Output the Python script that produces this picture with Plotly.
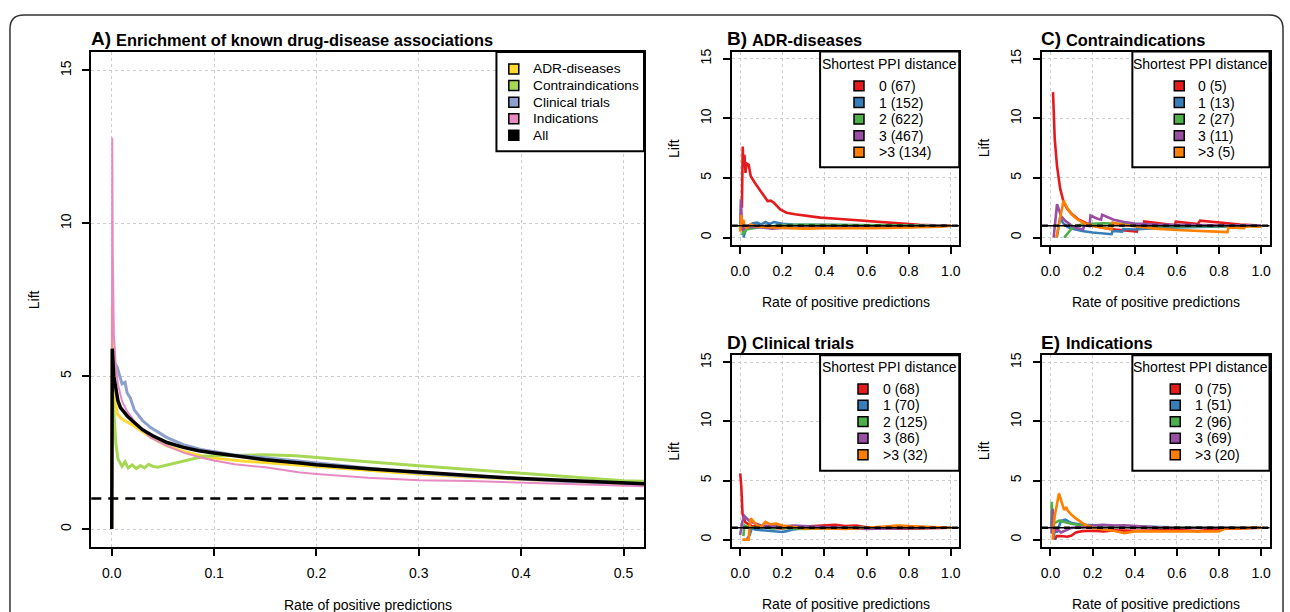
import plotly.graph_objects as go

W, H = 1290, 612
FONT = "Liberation Sans Narrow, Arial Narrow, Liberation Sans, sans-serif"

# ---------------- Panel A: enrichment of known drug-disease associations -------------
a_x_adr = [0, 0.0005, 0.002, 0.003, 0.0055, 0.01, 0.022, 0.038, 0.054, 0.07, 0.087, 0.1,
           0.13, 0.15, 0.184, 0.2, 0.25, 0.3, 0.35, 0.4, 0.45, 0.5, 0.52]
a_y_adr = [0, 7.3, 5.5, 4.41, 3.76, 3.6, 3.37, 3.0, 2.72, 2.54, 2.4, 2.32,
           2.22, 2.17, 2.07, 2.04, 1.92, 1.8, 1.7, 1.62, 1.54, 1.47, 1.45]

a_x_ci = [0.001, 0.002, 0.004, 0.006, 0.008, 0.01, 0.013, 0.016, 0.02, 0.024, 0.028, 0.032,
          0.036, 0.04, 0.045, 0.05, 0.055, 0.06, 0.065, 0.07, 0.075, 0.08, 0.09, 0.1, 0.12,
          0.15, 0.18, 0.2, 0.25, 0.3, 0.35, 0.4, 0.45, 0.5, 0.52]
a_y_ci = [4.4, 3.8, 2.8, 2.3, 2.15, 2.05, 2.2, 2.0, 2.1, 1.98, 2.08, 2.0,
          2.12, 2.05, 2.02, 2.06, 2.1, 2.13, 2.18, 2.2, 2.25, 2.3, 2.38, 2.4, 2.42,
          2.43, 2.4, 2.34, 2.2, 2.07, 1.95, 1.82, 1.7, 1.58, 1.56]

a_x_ct = [0.001, 0.002, 0.0055, 0.008, 0.01, 0.013, 0.015, 0.018, 0.022, 0.03, 0.038, 0.054,
          0.07, 0.087, 0.1, 0.12, 0.15, 0.2, 0.25, 0.3, 0.35, 0.4, 0.45, 0.5, 0.52]
a_y_ct = [5.0, 5.5, 5.27, 4.95, 4.75, 4.8, 4.45, 4.3, 3.9, 3.55, 3.32, 2.99,
          2.76, 2.6, 2.52, 2.42, 2.33, 2.16, 1.98, 1.83, 1.73, 1.63, 1.55, 1.5, 1.48]

a_x_ind = [0, 0.0005, 0.001, 0.002, 0.003, 0.004, 0.006, 0.01, 0.015, 0.022, 0.03, 0.038,
           0.054, 0.07, 0.087, 0.1, 0.12, 0.15, 0.184, 0.2, 0.25, 0.3, 0.35, 0.4, 0.45, 0.5, 0.52]
a_y_ind = [0, 12.8, 9.0, 6.4, 5.8, 5.3, 4.74, 4.19, 3.85, 3.54, 3.25, 2.99,
           2.72, 2.5, 2.34, 2.24, 2.12, 2.02, 1.85, 1.8, 1.68, 1.6, 1.57, 1.52, 1.47, 1.42, 1.4]

a_x_all = [0, 0.0005, 0.002, 0.004, 0.006, 0.0085, 0.012, 0.015, 0.02, 0.03, 0.04, 0.054,
           0.07, 0.085, 0.1, 0.12, 0.15, 0.184, 0.2, 0.25, 0.3, 0.35, 0.4, 0.45, 0.5, 0.52]
a_y_all = [0, 5.9, 5.0, 4.5, 4.2, 3.97, 3.8, 3.7, 3.54, 3.25, 3.05, 2.83,
           2.67, 2.56, 2.49, 2.4, 2.27, 2.16, 2.1, 1.97, 1.85, 1.75, 1.65, 1.57, 1.5, 1.48]

a_names = ["ADR-diseases", "Contraindications", "Clinical trials", "Indications", "All"]
a_colors = ["#FFD92F", "#A6D854", "#8DA0CB", "#E78AC3", "#000000"]

# ---------------- Panels B-E: by shortest PPI distance -------------------------------
ppi_labels = ["0", "1", "2", "3", ">3"]
ppi_colors = ["#E41A1C", "#377EB8", "#4DAF4A", "#984EA3", "#FF7F00"]

# B) ADR-diseases
b_counts = [67, 152, 622, 467, 134]
b_x_0 = [0.008, 0.012, 0.015, 0.02, 0.025, 0.03, 0.04, 0.05, 0.07, 0.085, 0.1, 0.115, 0.13,
         0.145, 0.16, 0.19, 0.22, 0.26, 0.3, 0.38, 0.46, 0.54, 0.62, 0.7, 0.78, 0.85, 0.92, 1.0]
b_y_0 = [2.5, 7.64, 5.97, 6.94, 5.42, 6.2, 6.11, 5.14, 4.58, 4.2, 3.89, 3.5, 3.06,
         3.1, 2.92, 2.36, 2.08, 1.95, 1.86, 1.67, 1.58, 1.47, 1.36, 1.22, 1.12, 1.06, 1.02, 1.0]
b_x_1 = [0.015, 0.02, 0.03, 0.04, 0.06, 0.08, 0.1, 0.12, 0.14, 0.16, 0.18, 0.2, 0.25, 0.3,
         0.4, 0.5, 0.6, 0.7, 0.8, 0.9, 1.0]
b_y_1 = [0.0, 0.3, 0.9, 1.0, 1.2, 1.25, 1.1, 1.3, 1.15, 1.3, 1.2, 1.15, 1.1, 1.08,
         1.05, 1.0, 1.02, 1.0, 0.98, 1.0, 1.0]
b_x_2 = [0.01, 0.015, 0.02, 0.03, 0.05, 0.08, 0.1, 0.15, 0.2, 0.3, 0.4, 0.5, 0.6, 0.7, 0.8, 0.9, 1.0]
b_y_2 = [0.2, 0.6, 0.4, 0.7, 0.75, 0.85, 0.9, 0.95, 1.05, 1.08, 1.07, 1.05, 1.04, 1.03, 1.02, 1.0, 1.0]
b_x_3 = [0.0, 0.003, 0.006, 0.01, 0.02, 0.05, 0.1, 0.15, 0.2, 0.3, 0.4, 0.5, 0.6, 0.7, 0.8, 0.9, 1.0]
b_y_3 = [1.0, 3.2, 2.0, 0.6, 0.8, 0.9, 0.85, 0.75, 0.8, 0.85, 0.85, 0.88, 0.9, 0.92, 0.95, 0.97, 1.0]
b_x_4 = [0.0, 0.005, 0.01, 0.015, 0.02, 0.03, 0.05, 0.07, 0.1, 0.15, 0.2, 0.3, 0.4, 0.5, 0.6,
         0.7, 0.8, 0.9, 0.95, 1.0]
b_y_4 = [0.5, 1.9, 1.2, 1.5, 1.0, 0.8, 1.1, 0.95, 0.9, 0.85, 0.8, 0.75, 0.78, 0.75, 0.78,
         0.8, 0.82, 0.85, 0.9, 1.0]

# C) Contraindications
c_counts = [5, 13, 27, 11, 5]
c_x_0 = [0.012, 0.02, 0.031, 0.046, 0.062, 0.08, 0.1, 0.13, 0.17, 0.22, 0.28, 0.34, 0.41, 0.415,
         0.44, 0.445, 0.52, 0.59, 0.595, 0.7, 0.71, 0.8, 0.9, 1.0]
c_y_0 = [12.2, 8.3, 6.0, 4.1, 3.0, 2.4, 2.0, 1.55, 1.2, 0.92, 0.72, 0.6, 0.5, 0.95,
         0.9, 1.35, 1.15, 1.02, 1.33, 1.14, 1.42, 1.25, 1.1, 1.0]
c_x_1 = [0.03, 0.046, 0.06, 0.08, 0.1, 0.15, 0.2, 0.25, 0.29, 0.295, 0.34, 0.345, 0.4, 0.45,
         0.5, 0.6, 0.7, 0.8, 0.9, 1.0]
c_y_1 = [0.0, 1.7, 1.2, 0.9, 0.75, 0.55, 0.42, 0.33, 0.28, 0.55, 0.5, 0.72, 0.68, 0.75,
         0.8, 0.85, 0.88, 0.92, 0.96, 1.0]
c_x_2 = [0.065, 0.08, 0.1, 0.12, 0.15, 0.2, 0.25, 0.3, 0.4, 0.5, 0.6, 0.7, 0.8, 0.9, 1.0]
c_y_2 = [0.0, 0.35, 0.75, 1.0, 1.1, 1.15, 1.2, 1.18, 1.05, 0.98, 0.95, 0.93, 0.95, 0.97, 1.0]
c_x_3 = [0.015, 0.031, 0.05, 0.07, 0.1, 0.13, 0.155, 0.16, 0.185, 0.19, 0.22, 0.24, 0.245, 0.28,
         0.3, 0.35, 0.4, 0.5, 0.6, 0.7, 0.8, 0.9, 1.0]
c_y_3 = [0.0, 2.8, 1.8, 1.4, 1.0, 0.78, 0.68, 1.05, 0.95, 1.85, 1.6, 1.5, 1.9, 1.65,
         1.5, 1.3, 1.18, 1.1, 1.05, 1.05, 1.03, 1.02, 1.0]
c_x_4 = [0.028, 0.062, 0.08, 0.1, 0.13, 0.16, 0.2, 0.25, 0.29, 0.295, 0.35, 0.4, 0.5, 0.6,
         0.7, 0.8, 0.84, 0.845, 0.92, 0.925, 1.0]
c_y_4 = [0.0, 3.1, 2.45, 1.95, 1.5, 1.2, 0.98, 0.8, 0.7, 1.25, 1.05, 0.95, 0.75, 0.63,
         0.55, 0.48, 0.46, 0.85, 0.78, 0.95, 0.92]

# D) Clinical trials
d_counts = [68, 70, 125, 86, 32]
d_x_0 = [0.0, 0.005, 0.011, 0.024, 0.04, 0.06, 0.08, 0.1, 0.15, 0.2, 0.25, 0.3, 0.35, 0.4,
         0.45, 0.5, 0.55, 0.6, 0.7, 0.8, 0.9, 1.0]
d_y_0 = [5.6, 4.5, 2.17, 1.47, 1.3, 1.1, 1.2, 1.05, 1.0, 0.95, 1.05, 1.1, 1.15, 1.2,
         1.25, 1.15, 1.2, 1.05, 0.95, 0.92, 0.97, 1.0]
d_x_1 = [0.03, 0.045, 0.055, 0.07, 0.1, 0.13, 0.16, 0.2, 0.22, 0.25, 0.3, 0.35, 0.4, 0.5,
         0.6, 0.7, 0.8, 0.9, 1.0]
d_y_1 = [0.0, 0.4, 1.0, 0.85, 0.8, 0.75, 0.7, 0.65, 0.72, 0.85, 0.95, 0.92, 1.0, 0.98,
         1.0, 1.0, 1.0, 1.0, 1.0]
d_x_2 = [0.015, 0.02, 0.03, 0.05, 0.1, 0.15, 0.2, 0.3, 0.4, 0.5, 0.6, 0.7, 0.8, 0.9, 1.0]
d_y_2 = [0.3, 1.2, 1.1, 1.0, 1.05, 0.95, 1.0, 0.9, 0.95, 0.98, 1.0, 1.0, 0.98, 1.0, 1.0]
d_x_3 = [0.0, 0.01, 0.02, 0.03, 0.05, 0.08, 0.1, 0.15, 0.2, 0.25, 0.3, 0.4, 0.5, 0.6, 0.7,
         0.8, 0.9, 1.0]
d_y_3 = [0.4, 1.5, 2.0, 1.8, 1.5, 1.3, 1.2, 1.15, 1.1, 1.2, 1.15, 1.1, 0.95, 0.9, 0.95,
         1.0, 1.0, 1.0]
d_x_4 = [0.01, 0.04, 0.045, 0.05, 0.065, 0.08, 0.1, 0.12, 0.14, 0.17, 0.2, 0.25, 0.3, 0.4,
         0.5, 0.6, 0.7, 0.75, 0.8, 0.9, 1.0]
d_y_4 = [0.0, 0.0, 1.2, 1.8, 1.5, 1.2, 1.1, 1.5, 1.3, 1.35, 1.2, 1.05, 0.95, 0.95,
         0.9, 1.0, 1.1, 1.2, 1.15, 1.05, 1.0]

# E) Indications
e_counts = [75, 51, 96, 69, 20]
e_x_0 = [0.02, 0.03, 0.05, 0.08, 0.1, 0.12, 0.15, 0.2, 0.25, 0.3, 0.4, 0.5, 0.6, 0.7, 0.75,
         0.8, 0.9, 1.0]
e_y_0 = [0.0, 0.3, 0.3, 0.25, 0.35, 0.6, 0.72, 0.75, 0.7, 0.78, 0.75, 0.78, 0.8, 0.72, 0.8,
         0.9, 0.95, 1.0]
e_x_1 = [0.015, 0.02, 0.03, 0.05, 0.07, 0.1, 0.15, 0.2, 0.3, 0.4, 0.5, 0.6, 0.7, 0.8, 0.9, 1.0]
e_y_1 = [0.0, 1.0, 0.6, 1.6, 1.7, 1.4, 1.25, 1.2, 1.15, 1.1, 1.05, 1.0, 1.0, 1.0, 1.0, 1.0]
e_x_2 = [0.003, 0.006, 0.01, 0.02, 0.04, 0.06, 0.08, 0.1, 0.15, 0.2, 0.3, 0.4, 0.5, 0.6, 0.7,
         0.8, 0.9, 1.0]
e_y_2 = [1.0, 3.2, 1.5, 1.4, 1.6, 1.5, 1.45, 1.35, 1.2, 1.1, 1.1, 1.05, 1.05, 1.05, 1.02,
         1.0, 1.0, 1.0]
e_x_3 = [0.005, 0.01, 0.015, 0.03, 0.05, 0.07, 0.1, 0.15, 0.2, 0.25, 0.3, 0.35, 0.4, 0.5,
         0.6, 0.7, 0.8, 0.9, 1.0]
e_y_3 = [0.5, 2.6, 0.6, 0.9, 0.6, 0.75, 1.0, 1.05, 1.2, 1.25, 1.2, 1.22, 1.15, 1.05,
         1.0, 1.0, 1.0, 1.02, 1.0]
e_x_4 = [0.01, 0.02, 0.04, 0.05, 0.065, 0.075, 0.08, 0.1, 0.12, 0.16, 0.2, 0.25, 0.3, 0.35,
         0.4, 0.5, 0.6, 0.7, 0.8, 0.83, 0.9, 1.0]
e_y_4 = [0.0, 2.0, 3.9, 3.3, 2.5, 2.75, 2.5, 2.1, 1.8, 1.3, 1.0, 0.85, 0.75, 0.55,
         0.7, 0.7, 0.72, 0.7, 0.7, 0.95, 0.95, 1.0]

a_xticks = [0, 0.1, 0.2, 0.3, 0.4, 0.5]
small_xticks = [0, 0.2, 0.4, 0.6, 0.8, 1.0]
yticks = [0, 5, 10, 15]

# ---------------- helpers -------------------------------------------------------------
def px(x):
    return x / W


def py(y):
    return 1 - y / H


fig = go.Figure()

# panel geometry in pixels: (left, right, top, bottom)
geo = {
    "A": (90.5, 644.5, 49.3, 547.1),
    "B": (732.5, 960.5, 48.8, 242.9),
    "C": (1043.5, 1271.5, 48.8, 242.9),
    "D": (732.5, 960.5, 353.9, 546.4),
    "E": (1043.5, 1271.5, 353.9, 546.4),
}
axis_ids = {"A": "", "B": "2", "C": "3", "D": "4", "E": "5"}

# Panel A traces
a_series = [(a_x_adr, a_y_adr), (a_x_ci, a_y_ci), (a_x_ct, a_y_ct), (a_x_ind, a_y_ind), (a_x_all, a_y_all)]
a_widths = [3, 3, 3, 2, 3.5]
for (xs, ys), name, col, w in zip(a_series, a_names, a_colors, a_widths):
    fig.add_trace(go.Scatter(x=xs, y=ys, mode="lines", name=name, showlegend=False,
                             line=dict(color=col, width=w), xaxis="x", yaxis="y"))

small_panels = {
    "B": ("ADR-diseases", b_counts, [(b_x_0, b_y_0), (b_x_1, b_y_1), (b_x_2, b_y_2), (b_x_3, b_y_3), (b_x_4, b_y_4)]),
    "C": ("Contraindications", c_counts, [(c_x_0, c_y_0), (c_x_1, c_y_1), (c_x_2, c_y_2), (c_x_3, c_y_3), (c_x_4, c_y_4)]),
    "D": ("Clinical trials", d_counts, [(d_x_0, d_y_0), (d_x_1, d_y_1), (d_x_2, d_y_2), (d_x_3, d_y_3), (d_x_4, d_y_4)]),
    "E": ("Indications", e_counts, [(e_x_0, e_y_0), (e_x_1, e_y_1), (e_x_2, e_y_2), (e_x_3, e_y_3), (e_x_4, e_y_4)]),
}

for key, (title, counts, series) in small_panels.items():
    aid = axis_ids[key]
    for (xs, ys), lab, col in zip(series, ppi_labels, ppi_colors):
        fig.add_trace(go.Scatter(x=xs, y=ys, mode="lines", name=lab, showlegend=False,
                                 line=dict(color=col, width=2.6),
                                 xaxis="x" + aid, yaxis="y" + aid))

# ---------------- axes ----------------------------------------------------------------
tickfont = dict(family=FONT, size=14, color="black")
common = dict(showline=True, linecolor="black", linewidth=2, mirror=True,
              ticks="outside", ticklen=7, tickwidth=1.5, tickcolor="black",
              showgrid=True, gridcolor="#cccccc", griddash="3px,3px", gridwidth=1,
              zeroline=False, tickfont=tickfont, fixedrange=True)

layout_axes = {}
for key, (l, r, t, b) in geo.items():
    aid = axis_ids[key]
    xname = "xaxis" + aid
    yname = "yaxis" + aid
    if key == "A":
        xr = [-0.02, 0.52]
        xt = a_xticks
    else:
        xr = [-0.04, 1.04]
        xt = small_xticks
    layout_axes[xname] = dict(common, domain=[px(l), px(r)], range=xr, tickvals=xt,
                              tickformat=".1f", anchor="y" + aid, ticklabelstandoff=5)
    layout_axes[yname] = dict(common, domain=[py(b), py(t)], range=[-0.6, 15.6], tickvals=yticks,
                              tickangle=-90, anchor="x" + aid, ticklabelstandoff=6)

fig.update_layout(**layout_axes)

shapes = []
annotations = []

# reference lines at lift = 1
for key in geo:
    aid = axis_ids[key]
    if key == "A":
        shapes.append(dict(type="line", xref="x domain", yref="y", x0=0, x1=1, y0=1, y1=1,
                           line=dict(color="black", width=2.6, dash="10px,7px"), layer="above"))
    else:
        shapes.append(dict(type="line", xref="x" + aid + " domain", yref="y" + aid, x0=0, x1=1, y0=1, y1=1,
                           line=dict(color="black", width=1.5), layer="above"))
        shapes.append(dict(type="line", xref="x" + aid + " domain", yref="y" + aid, x0=0, x1=1, y0=1, y1=1,
                           line=dict(color="black", width=2.4, dash="6px,5px"), layer="above"))


def text(x, y, s, size=14, bold=False, xanchor="left", angle=0):
    if bold:
        s = "<b>" + s + "</b>"
    annotations.append(dict(x=px(x), y=py(y), xref="paper", yref="paper", text=s, showarrow=False,
                            xanchor=xanchor, yanchor="middle", textangle=angle,
                            font=dict(family=FONT, size=size, color="black")))


def rect(x0, y0, x1, y1, fill="white", lw=1.5):
    shapes.append(dict(type="rect", xref="paper", yref="paper", x0=px(x0), x1=px(x1),
                       y0=py(y1), y1=py(y0), fillcolor=fill, line=dict(color="black", width=lw),
                       layer="above"))


# titles, axis titles
titles = {"A": ("A)", "Enrichment of known drug-disease associations")}
for k, (t, c, s) in small_panels.items():
    titles[k] = (k + ")", t)
title_y = {"A": 36, "B": 36, "C": 36, "D": 341, "E": 341}
title_x = {"A": 88, "B": 726, "C": 1040, "D": 726, "E": 1040}
for key, (lab, t) in titles.items():
    text(title_x[key], title_y[key], lab, size=19, bold=True)
    text(title_x[key] + 25, title_y[key] + 1, t, size=16.4, bold=True)

for key, (l, r, t, b) in geo.items():
    text((l + r) / 2, b + 58, "Rate of positive predictions", size=14, xanchor="center")
    text(l - 58, (t + b) / 2, "Lift", size=14, xanchor="center", angle=-90)

# legend A
la_l, la_r, la_t, la_b = 496.6, 644.5, 49.3, 149
rect(la_l, la_t, la_r, la_b, lw=2)
rows = [66.3, 83, 99.7, 116.3, 133]
for yv, name, col in zip(rows, a_names, a_colors):
    rect(509, yv - 5, 519, yv + 5, fill=col, lw=1.5)
    text(531, yv, name, size=13.7)

# legends B-E
leg_geo = {
    "B": (821, 61.5, [83.3, 100, 116.7, 133.3, 150], 165, 860, 878),
    "C": (1134, 61.5, [83.3, 100, 116.7, 133.3, 150], 165, 1181, 1198),
    "D": (821, 366, [388, 404.3, 420.7, 437.3, 454], 470, 864, 882),
    "E": (1134, 366, [388, 404.3, 420.7, 437.3, 454], 470, 1177, 1195),
}
for key, (l_, ty, ys, b_, sqx, tx) in leg_geo.items():
    left, right, top, bottom = geo[key]
    rect(l_, top, right, b_, lw=2)
    text((l_ + right) / 2, ty, "Shortest PPI distance", size=14, xanchor="center")
    counts = small_panels[key][1]
    for yv, lab, col, n in zip(ys, ppi_labels, ppi_colors, counts):
        rect(sqx - 5, yv - 5, sqx + 5, yv + 5, fill=col, lw=1.5)
        text(tx, yv, f"{lab} ({n})", size=14)

# outer rounded frame
r_px = 14
fx0, fy0, fx1, fy1 = 9, 12, 1285, 660
path = (f"M {px(fx0)},{py(fy1)} L {px(fx0)},{py(fy0 + r_px)} "
        f"Q {px(fx0)},{py(fy0)} {px(fx0 + r_px)},{py(fy0)} "
        f"L {px(fx1 - r_px)},{py(fy0)} Q {px(fx1)},{py(fy0)} {px(fx1)},{py(fy0 + r_px)} "
        f"L {px(fx1)},{py(fy1)}")
shapes.append(dict(type="path", xref="paper", yref="paper", path=path,
                   line=dict(color="#333333", width=1.5)))

fig.update_layout(width=W, height=H, margin=dict(l=0, r=0, t=0, b=0),
                  paper_bgcolor="white", plot_bgcolor="white", showlegend=False,
                  shapes=shapes, annotations=annotations,
                  font=dict(family=FONT, size=14, color="black"))

fig.write_html("out.html", config={"displayModeBar": False},
               post_script="document.body.style.margin='0';document.body.style.overflow='hidden';")
